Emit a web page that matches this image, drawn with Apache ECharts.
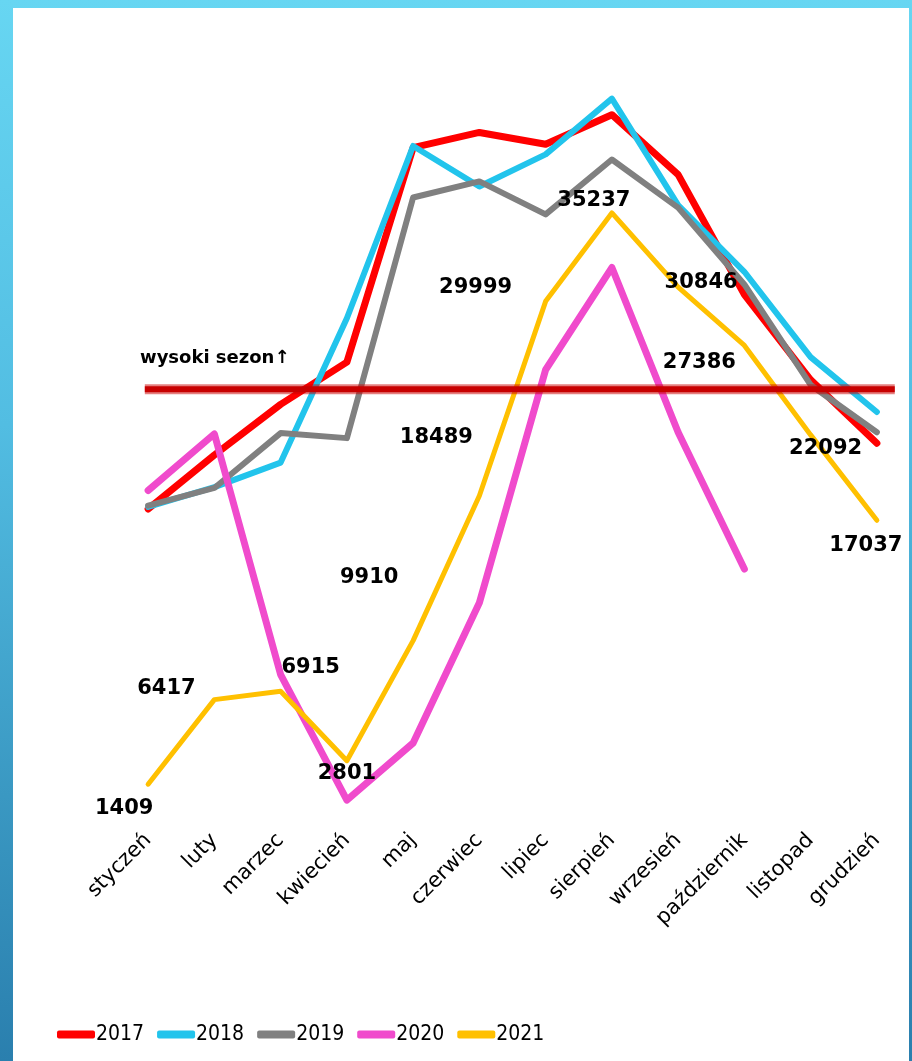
<!DOCTYPE html>
<html>
<head>
<meta charset="utf-8">
<script src="https://cdn.jsdelivr.net/npm/echarts@6/dist/echarts.min.js"></script>
<style>
  html, body { margin: 0; padding: 0; width: 912px; height: 1061px; overflow: hidden; }
  body { background: linear-gradient(to bottom, #67d6f2 0%, #52bde2 40%, #3a98c2 75%, #2a7fae 100%); position: relative; }
  #panel { position: absolute; left: 13px; top: 8px; width: 896px; height: 1053px; background: #ffffff; }
  #chart { position: absolute; left: 0; top: 0; width: 912px; height: 1061px; }
</style>
</head>
<body>
<div id="panel"></div>
<div id="chart"></div>
<script>
// ---- data ----
const months = ['styczeń', 'luty', 'marzec', 'kwiecień', 'maj', 'czerwiec', 'lipiec', 'sierpień', 'wrzesień', 'październik', 'listopad', 'grudzień'];
const years = ['2017', '2018', '2019', '2020', '2021'];
const data2017 = [17700, 20900, 23900, 26400, 39100, 40000, 39300, 41050, 37500, 30400, 25350, 21600];
const data2018 = [17830, 19000, 20450, 29000, 39200, 36800, 38700, 42000, 35700, 31750, 26700, 23450];
const data2019 = [17900, 18950, 22200, 21900, 36150, 37100, 35150, 38400, 35550, 31000, 25050, 22250];
const data2020 = [18800, 22150, 7900, 470, 3850, 12150, 25950, 32000, 22250, 14150, null, null];
const data2021 = [1409, 6417, 6915, 2801, 9910, 18489, 29999, 35237, 30846, 27386, 22092, 17037];
const highSeasonThreshold = 24800;
const highSeasonLabel = 'wysoki sezon↑';

// ---- styling (not data) ----
const colors = ['#ff0000', '#22c4ec', '#808080', '#f04bcc', '#ffc000'];
const lineWidths = [7, 6, 6, 7, 5];
const labelOffsets2021 = [[-24, 24], [-48, -11], [30, -24], [0, 13], [-44, -63], [-43, -58], [-70, -14], [-18, -12], [23, -4], [-45, 17], [15, 14], [-11, 25]];
const thresholdSpan = [-0.05, 11.27]; // extent of the threshold line in category-index units

const chart = echarts.init(document.getElementById('chart'), null, { renderer: 'canvas' });
const allData = [data2017, data2018, data2019, data2020, data2021];

const labelFont = "'DejaVu Sans', sans-serif";

const series = years.map((y, i) => {
  const isLast = i === years.length - 1;
  return {
    name: y,
    type: 'line',
    xAxisIndex: 0,
    data: isLast ? allData[i].map((v, k) => ({ value: v, label: { offset: labelOffsets2021[k] } })) : allData[i],
    symbol: 'circle',
    symbolSize: 1,
    showSymbol: true,
    connectNulls: false,
    z: 2 + i,
    itemStyle: { color: colors[i] },
    lineStyle: { color: colors[i], width: lineWidths[i], cap: 'round', join: 'round' },
    label: isLast ? {
      show: true,
      position: 'inside',
      formatter: '{c}',
      color: '#000',
      fontSize: 21,
      fontWeight: 'bold',
      fontFamily: labelFont
    } : { show: false },
    emphasis: { disabled: true },
    animation: false
  };
});

// high-season threshold line (wide translucent + narrow core)
[{ w: 10, c: 'rgba(204,0,0,0.5)' }, { w: 6, c: '#c80000' }].forEach((s, j) => {
  series.push({
    name: 'threshold' + j,
    type: 'line',
    xAxisIndex: 1,
    data: [[thresholdSpan[0], highSeasonThreshold], [thresholdSpan[1], highSeasonThreshold]],
    symbol: 'none',
    lineStyle: { color: s.c, width: s.w, cap: 'butt' },
    z: 20 + j,
    silent: true,
    animation: false
  });
});

const option = {
  backgroundColor: 'transparent',
  animation: false,
  grid: { left: 115, right: 2, top: 48, bottom: 253, containLabel: false },
  xAxis: [
    {
      type: 'category',
      data: months,
      boundaryGap: true,
      axisLine: { show: false },
      axisTick: { show: false },
      splitLine: { show: false },
      axisLabel: {
        rotate: 45,
        margin: 29,
        interval: 0,
        color: '#000',
        fontSize: 21,
        fontFamily: labelFont
      }
    },
    {
      type: 'value',
      min: -0.5,
      max: 11.5,
      show: false
    }
  ],
  yAxis: {
    type: 'value',
    min: 0,
    max: 45000,
    show: false,
    splitLine: { show: false }
  },
  legend: {
    data: years,
    left: 57,
    top: 1024,
    padding: 0,
    icon: 'roundRect',
    itemWidth: 38,
    itemHeight: 8,
    itemGap: 13,
    textStyle: {
      color: '#000',
      fontSize: 21,
      padding: [0, 0, 0, -4],
      fontFamily: "'Liberation Sans Narrow', 'DejaVu Sans Condensed', 'Liberation Sans', sans-serif"
    }
  },
  graphic: [
    {
      type: 'text',
      left: 140,
      top: 349,
      style: {
        text: highSeasonLabel,
        fill: '#000',
        font: "bold 18px 'DejaVu Sans', sans-serif"
      }
    }
  ],
  series: series
};
chart.setOption(option);
</script>
</body>
</html>
